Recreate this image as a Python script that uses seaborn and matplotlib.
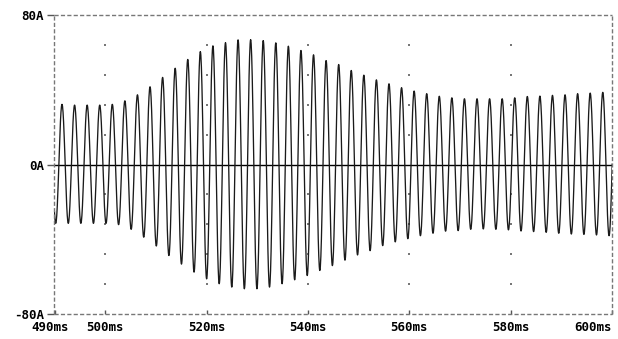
import numpy as np
import pandas as pd
import matplotlib
matplotlib.use("Agg")
import matplotlib.pyplot as plt
import matplotlib.transforms as mtransforms
from matplotlib.lines import Line2D
import seaborn as sns

# Timing of the oscillation (ms)
first_trough_ms = 490.24
period_ms = 2.4814

# Positive peaks per cycle (A); the first and last lie just outside 490-600 ms
peak_amps = [32.0,
             32.2, 31.8, 31.8, 31.8, 32.2, 34.1, 37.3, 41.6, 46.6, 51.5,
             56.2, 60.4, 63.5, 65.2, 66.7, 66.8, 66.3, 65.1, 63.3, 61.0,
             58.7, 55.6, 53.5, 50.3, 47.8, 45.3, 43.2, 41.1, 39.3, 37.9,
             36.5, 35.7, 35.2, 35.2, 35.2, 35.2, 35.7, 36.4, 36.6, 37.0,
             37.3, 37.9, 38.2, 38.6,
             38.8]

# Negative troughs per cycle (A)
trough_amps = [-31.5, -31.5, -31.5, -31.5, -31.5, -32.2, -34.7, -38.9, -43.6,
               -48.7, -53.3, -57.6, -61.2, -63.8, -65.6, -66.5, -66.5, -65.6,
               -63.8, -61.7, -59.4, -56.7, -54.1, -51.2, -48.4, -46.1, -43.4,
               -41.4, -39.7, -38.1, -36.8, -35.7, -35.4, -34.7, -34.5, -34.7,
               -35.0, -35.6, -35.9, -36.3, -36.8, -37.2, -37.4, -37.7, -38.1]

x_ticks = [490, 500, 520, 540, 560, 580, 600]
x_labels = ["490ms", "500ms", "520ms", "540ms", "560ms", "580ms", "600ms"]
y_ticks = [-80, 0, 80]
y_labels = ["-80A", "0A", "80A"]
grid_x = [500, 520, 540, 560, 580]
grid_y = [-64, -48, -32, -16, 16, 32, 48, 64]

# Alternate peaks and troughs in time order
ext_t, ext_v = [], []
for k in range(len(trough_amps)):
    ext_t.append(first_trough_ms + (k - 0.5) * period_ms)
    ext_v.append(peak_amps[k])
    ext_t.append(first_trough_ms + k * period_ms)
    ext_v.append(trough_amps[k])
ext_t.append(first_trough_ms + (len(trough_amps) - 0.5) * period_ms)
ext_v.append(peak_amps[len(trough_amps)])

# Join neighbouring extremes with half-cosine swings
n_seg = 24
s = np.linspace(0, 1, n_seg, endpoint=False)
t_all, v_all = [], []
for i in range(len(ext_t) - 1):
    t_all.append(ext_t[i] + (ext_t[i + 1] - ext_t[i]) * s)
    v_all.append(ext_v[i] + (ext_v[i + 1] - ext_v[i]) * (1 - np.cos(np.pi * s)) / 2)
t_all.append([ext_t[-1]])
v_all.append([ext_v[-1]])
df = pd.DataFrame({"time_ms": np.concatenate(t_all), "current_A": np.concatenate(v_all)})

sns.set_style("white")
plt.rcParams["font.family"] = ["DejaVu Sans Mono"]

fig = plt.figure(figsize=(6.18, 3.39), dpi=100)
ax = fig.add_axes([54.5 / 618, 25 / 339, (612 - 54.5) / 618, (324 - 25) / 339])

# Dotted grid: single points at the grid intersections
gx, gy = np.meshgrid(grid_x, grid_y)
ax.scatter(gx.ravel(), gy.ravel(), s=1.2, color="#777777", marker="s",
           linewidths=0, zorder=1)

ax.axhline(0, color="black", lw=1.0, zorder=2)

sns.lineplot(data=df, x="time_ms", y="current_A", ax=ax, color="#1a1a1a",
             lw=0.95, estimator=None, sort=False, zorder=3)

ax.set_xlim(490, 600)
ax.set_ylim(-80, 80)
ax.set_xlabel("")
ax.set_ylabel("")

ax.set_xticks(x_ticks)
ax.set_xticklabels(x_labels)
ax.set_yticks(y_ticks)
ax.set_yticklabels(y_labels)

# Dashed frame drawn as four lines around the plotting area
for sp in ax.spines.values():
    sp.set_visible(False)
frame_kw = dict(transform=ax.transAxes, color="#777777", lw=1.0,
                linestyle=(0, (3.0, 1.6)), clip_on=False, zorder=4,
                solid_capstyle="butt", dash_capstyle="butt")
for xs, ys in [([0, 1], [0, 0]), ([0, 1], [1, 1]), ([0, 0], [0, 1]), ([1, 1], [0, 1])]:
    ax.add_line(Line2D(xs, ys, **frame_kw))

ax.tick_params(axis="x", direction="in", length=3, width=1, color="#555555",
               pad=5, labelsize=9, labelcolor="black", bottom=True)
ax.tick_params(axis="y", direction="out", length=5, width=1, color="#555555",
               pad=2.5, labelsize=9, labelcolor="black", left=True)
for lab in ax.get_xticklabels() + ax.get_yticklabels():
    lab.set_fontweight("bold")

xlabs = ax.get_xticklabels()
xlabs[-1].set_horizontalalignment("right")
xlabs[0].set_transform(xlabs[0].get_transform() +
                       mtransforms.ScaledTranslation(-4 / 100, 0, fig.dpi_scale_trans))

fig.savefig("out.png", dpi=100)
